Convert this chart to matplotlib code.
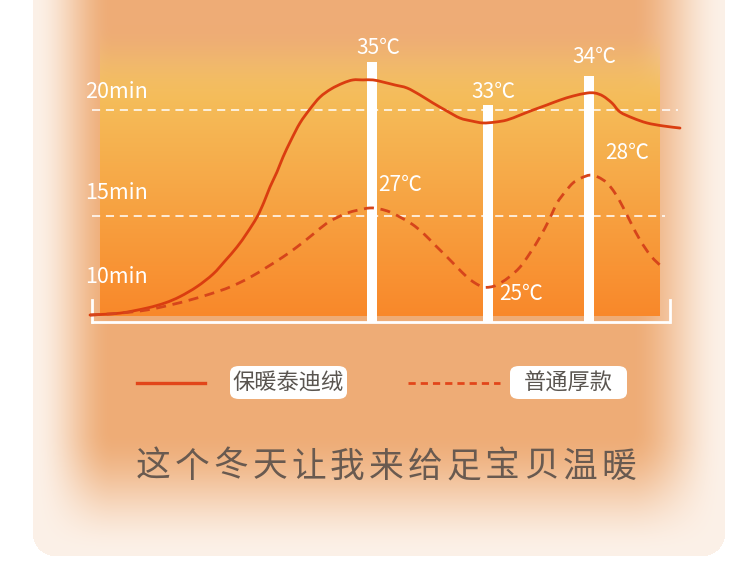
import numpy as np
import matplotlib
matplotlib.use("Agg")
import matplotlib.pyplot as plt
from matplotlib.patches import FancyBboxPatch, PathPatch
from matplotlib.path import Path
from matplotlib.lines import Line2D

plt.rcParams['font.family'] = ['Noto Sans CJK SC', 'DejaVu Sans']

# ---- data -------------------------------------------------------------
# horizontal position (time progress, arbitrary units) and warm-up minutes
teddy_x = [0, 30, 57, 75, 90, 107, 123, 135, 147, 157, 167, 174, 180, 187, 193,
           201, 210, 220, 230, 241, 253, 263, 273, 283, 293, 305, 317, 330, 343,
           357, 370, 382, 393, 405, 417, 430, 443, 457, 470, 483, 497, 505, 513,
           522, 530, 543, 557, 573, 590]
teddy_y = [10.33, 10.42, 10.66, 10.90, 11.20, 11.67, 12.26, 12.88, 13.54, 14.20,
           14.95, 15.66, 16.37, 17.08, 17.78, 18.58, 19.39, 20.05, 20.61, 20.99,
           21.27, 21.42, 21.42, 21.42, 21.32, 21.18, 21.04, 20.71, 20.33, 19.95,
           19.62, 19.48, 19.39, 19.43, 19.53, 19.76, 20.00, 20.24, 20.47, 20.66,
           20.80, 20.80, 20.66, 20.33, 19.91, 19.62, 19.39, 19.25, 19.15]

plain_x = [0, 30, 57, 80, 100, 120, 140, 159, 177, 193, 207, 222, 237, 248, 257,
           268, 280, 290, 300, 310, 322, 333, 345, 357, 367, 377, 385, 393, 400,
           407, 418, 430, 440, 450, 459, 467, 475, 483, 491, 500, 508, 517, 525,
           533, 541, 550, 561, 573]
plain_y = [10.33, 10.42, 10.57, 10.80, 11.04, 11.32, 11.65, 12.08, 12.59, 13.07,
           13.54, 14.10, 14.67, 14.95, 15.14, 15.28, 15.38, 15.33, 15.19, 14.95,
           14.62, 14.20, 13.63, 13.07, 12.59, 12.12, 11.84, 11.65, 11.65, 11.75,
           12.08, 12.59, 13.25, 14.01, 14.81, 15.61, 16.13, 16.56, 16.79, 16.93,
           16.84, 16.56, 16.08, 15.42, 14.67, 13.87, 13.11, 12.55]

marker_x = [281.5, 397.5, 499]
marker_top = [22.26, 20.24, 21.60]
teddy_temps = ["35℃", "33℃", "34℃"]
plain_temps = ["27℃", "25℃", "28℃"]

grid_levels = [20, 15]
level_labels = ["20min", "15min", "10min"]
series_names = ["保暖泰迪绒", "普通厚款"]
slogan = "这个冬天让我来给足宝贝温暖"

# ---- figure -----------------------------------------------------------
W, H = 750, 576
fig = plt.figure(figsize=(W / 100, H / 100), dpi=100)
fig.patch.set_facecolor("white")
ax = fig.add_axes([0, 0, 1, 1])
X0, X1 = -90, 660
Y0, Y1 = -1.98, 25.19
ax.set_xlim(X0, X1)
ax.set_ylim(Y0, Y1)
ax.axis("off")


def px(xp, yp):
    """figure fraction from pixel position (origin top-left)"""
    return xp / W, 1 - yp / H


def smooth_path(xs, ys, k=6.0):
    """cubic Bezier path through the given points (Catmull-Rom tangents)"""
    pts = np.column_stack([xs, ys]).astype(float)
    # work in display space so tangents are isotropic
    disp = ax.transData.transform(pts)
    verts = [disp[0]]
    codes = [Path.MOVETO]
    n = len(disp)
    for i in range(n - 1):
        p0 = disp[max(i - 1, 0)]
        p1 = disp[i]
        p2 = disp[i + 1]
        p3 = disp[min(i + 2, n - 1)]
        c1 = p1 + (p2 - p0) / k
        c2 = p2 - (p3 - p1) / k
        verts += [c1, c2, p2]
        codes += [Path.CURVE4] * 3
    verts = ax.transData.inverted().transform(np.array(verts))
    return Path(verts, codes)


# background card with soft white edges and a warm gradient panel
yy, xx = np.mgrid[0:H, 0:W] + 0.5


def smooth(t):
    t = np.clip(t, 0, 1)
    return t * t * (3 - 2 * t)


L, R, B, rad = 33, 725, 556, 22
base = np.array([238, 172, 118]) / 255
edge = np.array([252, 241, 232]) / 255
w = smooth((xx - L) / 80) * smooth((R - xx) / 95) * smooth((B - yy) / 125)
img = edge * (1 - w[..., None]) + base * w[..., None]

inside = (xx >= L) & (xx <= R) & (yy <= B)
cy = B - rad
for cx, side in ((L + rad, -1), (R - rad, 1)):
    corner = (yy > cy) & ((xx - cx) * side > 0)
    inside &= ~(corner & ((xx - cx) ** 2 + (yy - cy) ** 2 > rad ** 2))
img[~inside] = 1.0

# chart panel
top_c = np.array([244, 198, 98]) / 255
bot_c = np.array([249, 136, 42]) / 255
t = np.clip((yy - 60) / (316 - 60), 0, 1)[..., None]
panel = top_c * (1 - t) + bot_c * t
alpha = smooth((yy - 25) / 80)[..., None]
in_panel = ((xx >= 100) & (xx <= 660) & (yy <= 316))[..., None]
img = np.where(in_panel, panel * alpha + img * (1 - alpha), img)

ax.imshow(img, extent=(X0, X1, Y0, Y1), aspect="auto", zorder=0,
          interpolation="bilinear")

# grid lines and level labels
grid_ends = [588, 575]
for lvl, xe in zip(grid_levels, grid_ends):
    ax.plot([2, xe], [lvl, lvl], color="white", lw=1.3, alpha=0.85,
            dashes=(4.5, 3.2), zorder=2)
label_y = [20.85, 16.08, 12.12]
for lab, ly in zip(level_labels, label_y):
    ax.text(-5, ly, lab, color="white", fontsize=15.5, va="center",
            ha="left", zorder=3)

# baseline with end ticks
ax.plot([1, 580], [10, 10], color="white", lw=2, zorder=3, solid_capstyle="butt")
ax.plot([1.5, 1.5], [10, 11.04], color="white", lw=2, zorder=3)
ax.plot([579.5, 579.5], [10, 11.04], color="white", lw=2, zorder=3)

# white marker bars
ax.bar(marker_x, [t_ - 10 for t_ in marker_top], bottom=10, width=10,
       color="white", zorder=3)

# curves
ax.add_patch(PathPatch(smooth_path(teddy_x, teddy_y), fc="none",
                       ec="#DA3D10", lw=2.0, zorder=4, capstyle="round"))
ax.add_patch(PathPatch(smooth_path(plain_x, plain_y), fc="none",
                       ec="#D6451B", lw=2.0, zorder=4,
                       linestyle=(0, (3.6, 2.4))))

# temperature labels
teddy_pos = [(288, 22.92), (403, 20.85), (504, 22.50)]
plain_pos = [(310, 16.46), (431, 11.32), (537, 17.97)]
for lab, (lx, ly) in zip(teddy_temps + plain_temps, teddy_pos + plain_pos):
    ax.text(lx, ly, lab, color="white", fontsize=15, ha="center",
            va="center", zorder=5)

# legend
fig.add_artist(Line2D([137 / W, 205 / W], [1 - 383 / H] * 2, color="#E2461A",
                      lw=2.4, transform=fig.transFigure))
fig.add_artist(Line2D([408 / W, 500 / W], [1 - 383 / H] * 2, color="#E2461A",
                      lw=2.0, dashes=(2.6, 1.8), transform=fig.transFigure))
boxes = [(230, 347), (510, 627)]
for name, (bx0, bx1) in zip(series_names, boxes):
    x0f, y1f = px(bx0, 366)
    x1f, y0f = px(bx1, 399)
    fig.add_artist(FancyBboxPatch((x0f, y0f), x1f - x0f, y1f - y0f,
                                  boxstyle="round,pad=0,rounding_size=0.012",
                                  transform=fig.transFigure, fc="white",
                                  ec="none"))
    cx, cy2 = px((bx0 + bx1) / 2, 383)
    fig.text(cx, cy2, name, color="#5A5550", fontsize=16, ha="center",
             va="center")

# slogan, evenly spaced characters
n = len(slogan)
start, step = 153, (619 - 153) / (n - 1)
for i, ch in enumerate(slogan):
    cx, cy2 = px(start + i * step, 467)
    fig.text(cx, cy2, ch, color="#695A50", fontsize=25, ha="center",
             va="center", fontweight="medium")

fig.savefig("out.png", dpi=100, facecolor=fig.get_facecolor())
